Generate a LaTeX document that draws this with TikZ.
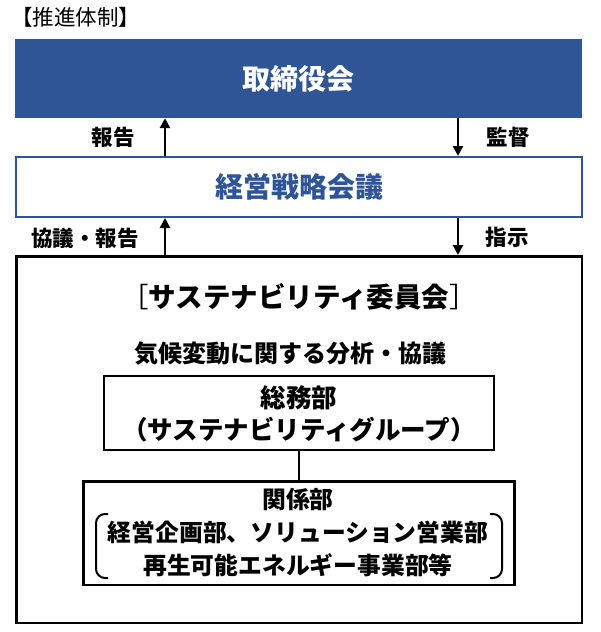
\documentclass[tikz,border=0pt]{standalone}
\usepackage{fontspec}
\setmainfont{Noto Sans CJK JP}
\usetikzlibrary{arrows.meta}
\definecolor{boardblue}{HTML}{2F5597}

\begin{document}
\begin{tikzpicture}[x=1pt, y=-1pt,
		box/.style={draw, line width=2.5pt, inner sep=0pt},
		arr/.style={line width=2.5pt, -{Triangle[length=10pt,width=10pt]}},
		lbl/.style={font=\fontsize{21.5}{24}\selectfont\bfseries},
		txt/.style={font=\fontsize{25.5}{32.5}\selectfont\bfseries, align=center}]
			\useasboundingbox (0,0) rectangle (600,632);

			\node[font=\fontsize{21.5}{24}\selectfont, anchor=west, inner sep=0pt] (title) at (11,17) {【推進体制】};

			\node[fill=boardblue, text=white, minimum width=567pt, minimum height=79pt, font=\fontsize{28}{30}\selectfont\bfseries] (board) at (298.5, 78.5) {取締役会};
			\node[draw=boardblue, line width=2pt, text=boardblue, minimum width=566pt, minimum height=60pt, font=\fontsize{28}{30}\selectfont\bfseries] (keiei) at (299, 187) {経営戦略会議};
			\node[box, minimum width=565.5pt, minimum height=366.5pt] (committee) at (299, 439.5) {};

			\node[lbl] (report) at (113, 137) {報告};
			\node[lbl] (audit) at (508, 137) {監督};
			\node[lbl] (discuss) at (85, 238) {協議・報告};
			\node[lbl] (order) at (507, 237) {指示};

			\node[font=\fontsize{27.5}{28}\selectfont\bfseries] (ctitle) at (299, 297) {{\mdseries ［}サステナビリティ委員会{\mdseries ］}};
			\node[font=\fontsize{24}{28}\selectfont\bfseries] (task) at (290, 354) {気候変動に関する分析・協議};

			\node[box, minimum width=390pt, minimum height=74pt] (soumu) at (299, 413) {};
			\node[txt] (soumutext) at (299, 414) {総務部\\（サステナビリティグループ）};

			\node[box, minimum width=431pt, minimum height=103.5pt] (kankei) at (299, 533) {};
			\node[txt, font=\fontsize{23.8}{33}\selectfont\bfseries] (kankeitext) at (298, 533) {関係部\\経営企画部、ソリューション営業部\\再生可能エネルギー事業部等};

			\coordinate (upx) at (165, 0);
			\coordinate (dnx) at (458, 0);

			\draw[arr] (keiei.north -| upx) -- (board.south -| upx);
			\draw[arr] (board.south -| dnx) -- (keiei.north -| dnx);
			\draw[arr] (committee.north -| upx) -- (keiei.south -| upx);
			\draw[arr] (keiei.south -| dnx) -- (committee.north -| dnx);

			\draw[line width=2.5pt] (soumu) -- (kankei);

			% parentheses round the two lines of kankei
			\draw[line width=2pt, rounded corners=9pt] (108, 514) -- (96, 514) -- (96, 578) -- (108, 578);
			\draw[line width=2pt, rounded corners=9pt] (490, 514) -- (502, 514) -- (502, 578) -- (490, 578);

		\end{tikzpicture}
\end{document}
